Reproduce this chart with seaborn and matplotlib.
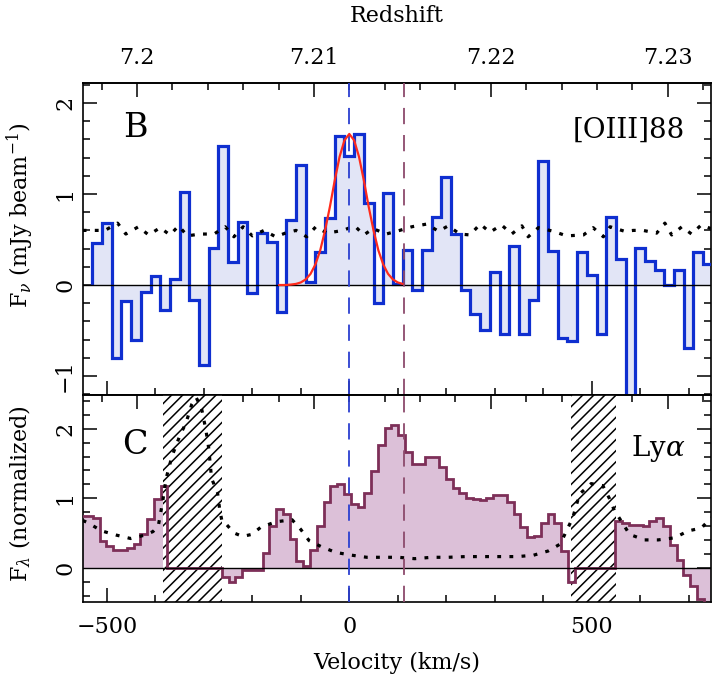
import numpy as np
import matplotlib
matplotlib.use('Agg')
import matplotlib.pyplot as plt
from matplotlib.ticker import MultipleLocator, FixedLocator, FixedFormatter
import seaborn as sns

#########   data   ################################
z_sys = 7.212            # redshift at v = 0
c_kms = 299792.458
v_lya_peak = 113         # km/s, second dashed line

# [OIII]88 spectrum, 20 km/s channels (centres)
oiii_vel = np.arange(-520, 741, 20)
oiii_flux = [0.46, 0.68, -0.80, -0.18, -0.60, -0.08, 0.10, -0.27, 0.07, 1.02,
             -0.16, -0.88, 0.41, 1.53, 0.25, 0.69, -0.09, 0.57, 0.47, -0.30,
             0.71, 1.32, 0.03, 0.36, 0.74, 1.64, 1.42, 1.66, 0.90, -0.20,
             1.01, 0.01, 0.38, -0.05, 0.39, 0.75, 1.19, 0.56, -0.05, -0.32,
             -0.49, 0.14, -0.54, 0.43, -0.54, -0.16, 1.36, 0.37, -0.58, -0.62,
             0.36, 0.11, -0.54, 0.75, 0.29, -1.40, 0.41, 0.26, 0.16, 0.00,
             0.16, -0.69, 0.36, 0.23]

# [OIII] noise (dotted)
oiii_rms_vel = [-550, -530, -504, -478, -461, -435, -414, -390, -370, -352, -334,
                -308, -279, -256, -238, -219, -200, -176, -152, -132, -110,
                -88, -69, -46, -13, 11, 30, 49, 76, 104, 129, 160, 184, 204,
                228, 249, 270, 290, 314, 335, 356, 369, 390, 421, 448, 483,
                503, 524, 538, 568, 586, 606, 634, 651, 665, 686, 706, 726, 746]
oiii_rms = [0.60, 0.60, 0.60, 0.68, 0.56, 0.64, 0.55, 0.63, 0.55, 0.65, 0.54,
            0.56, 0.56, 0.64, 0.53, 0.64, 0.54, 0.60, 0.53, 0.57, 0.60,
            0.53, 0.64, 0.57, 0.60, 0.65, 0.55, 0.62, 0.56, 0.60, 0.64, 0.67,
            0.59, 0.65, 0.56, 0.55, 0.67, 0.58, 0.66, 0.56, 0.65, 0.53, 0.63,
            0.59, 0.54, 0.55, 0.63, 0.53, 0.64, 0.59, 0.60, 0.60, 0.57, 0.68,
            0.55, 0.64, 0.56, 0.66, 0.62]

# gaussian fit (red)
gauss_vel = [-145, -130, -120, -110, -100, -90, -80, -70, -60, -50, -40, -30,
             -20, -10, 0, 10, 20, 30, 40, 50, 60, 70, 80, 90, 100, 110]
gauss_flux = [0.00, 0.00, 0.005, 0.012, 0.028, 0.061, 0.122, 0.225, 0.38, 0.60,
              0.86, 1.15, 1.41, 1.59, 1.66, 1.59, 1.41, 1.15, 0.86, 0.60, 0.38,
              0.225, 0.122, 0.061, 0.028, 0.012]

# Lya spectrum, 14 km/s channels (centres)
lya_vel = np.arange(-550, 753, 14)
lya_flux = [0.75, 0.74, 0.71, 0.38, 0.31, 0.25, 0.25, 0.28, 0.34, 0.48,
            0.70, 0.99, 1.18, 0, 0, 0, 0, 0, 0, 0,
            0, -0.13, -0.20, -0.13, -0.04, -0.03, -0.03, 0.21, 0.60, 0.84,
            0.77, 0.42, 0.09, 0.02, 0.26, 0.60, 0.95, 1.18, 1.21, 1.06,
            0.91, 0.87, 1.07, 1.39, 1.76, 2.01, 2.06, 1.91, 1.67, 1.49,
            1.49, 1.59, 1.59, 1.45, 1.28, 1.15, 1.08, 1.01, 0.99, 0.98,
            1.00, 1.04, 1.04, 0.95, 0.77, 0.58, 0.44, 0.46, 0.65, 0.77,
            0.65, 0.24, -0.20, 0, 0, 0, 0, 0, 0, 0.67,
            0.65, 0.62, 0.61, 0.60, 0.67, 0.72, 0.60, 0.33, 0.11, -0.10,
            -0.27, -0.45, -0.55, -0.55]

# Lya noise (dotted)
lya_err_vel = [-550, -540, -511, -481, -451, -421, -405, -394, -385, -378,
               -366, -349, -337, -325, -316, -305, -296, -290, -284, -272,
               -267, -262, -253, -238, -220, -201, -183, -152, -118, -100,
               -83, -57, -28, 5, 36, 69, 101, 135, 170, 204,
               239, 270, 309, 347, 380, 410, 435, 448, 461, 475,
               499, 523, 537, 547, 563, 578, 609, 637, 671, 699,
               726, 747]
lya_err = [0.68, 0.65, 0.53, 0.47, 0.42, 0.47, 0.52, 0.60, 0.95, 1.28,
           1.60, 1.91, 2.08, 2.35, 2.45, 2.30, 1.99, 1.72, 1.28, 1.09,
           0.82, 0.65, 0.62, 0.50, 0.45, 0.48, 0.58, 0.66, 0.69, 0.55,
           0.39, 0.30, 0.22, 0.18, 0.15, 0.15, 0.15, 0.13, 0.15, 0.15,
           0.16, 0.16, 0.16, 0.16, 0.18, 0.24, 0.34, 0.53, 0.72, 1.06,
           1.21, 1.18, 0.99, 0.82, 0.65, 0.48, 0.40, 0.40, 0.43, 0.53,
           0.57, 0.72]

# sky line masks (hatched)
sky_masks = [(-385, -263), (457, 551)]

z_ticks = [7.20, 7.21, 7.22, 7.23]
z_ticklabels = ['7.2', '7.21', '7.22', '7.23']

#########   plot   ############
sns.set_style('ticks')
plt.rcParams['font.family'] = ['DejaVu Serif']
plt.rcParams['mathtext.fontset'] = 'dejavuserif'
plt.rcParams['hatch.linewidth'] = 1.1
plt.rcParams['text.color'] = 'black'
plt.rcParams['axes.edgecolor'] = 'black'
plt.rcParams['xtick.color'] = 'black'
plt.rcParams['ytick.color'] = 'black'
plt.rcParams['xtick.labelcolor'] = 'black'
plt.rcParams['ytick.labelcolor'] = 'black'

W, H = 713, 678
fig = plt.figure(figsize=(W / 100, H / 100), dpi=100)
ax1 = fig.add_axes([83 / W, 1 - 395 / H, 628 / W, 312 / H])
ax2 = fig.add_axes([83 / W, 1 - 601.7 / H, 628 / W, 206.7 / H])

blue = '#0f2fd0'
maroon = '#7d2f58'

# top: [OIII]
e1 = np.append(oiii_vel - 10, oiii_vel[-1] + 10)
ax1.stairs(oiii_flux, e1, baseline=0, fill=True, color='#e2e5f6', zorder=1)
ax1.stairs(oiii_flux, e1, baseline=0, color=blue, lw=2.3, zorder=3)
sns.lineplot(x=oiii_rms_vel, y=oiii_rms, ax=ax1, color='black', lw=2.3,
             linestyle=(0, (1.2, 2.6)), zorder=4)
sns.lineplot(x=gauss_vel, y=gauss_flux, ax=ax1, color='#ff2b1c', lw=1.6, zorder=6)

# bottom: Lya
e2 = np.append(lya_vel - 7, lya_vel[-1] + 7)
for lo, hi in sky_masks:
    ax2.axvspan(lo, hi, facecolor='white', edgecolor='black', hatch='///',
                lw=0, zorder=2.5)
ax2.stairs(lya_flux, e2, baseline=0, fill=True, color='#dcc0d8', zorder=2)
ax2.stairs(lya_flux, e2, baseline=0, color=maroon, lw=2.0, zorder=3)
sns.lineplot(x=lya_err_vel, y=lya_err, ax=ax2, color='black', lw=2.3,
             linestyle=(0, (1.2, 2.6)), zorder=4)

for ax in (ax1, ax2):
    ax.axhline(0, color='black', lw=1.0, zorder=3.5)
    ax.axvline(0, color='#2b3fd0', lw=1.3, ls=(0, (9, 6)), zorder=5)
    ax.axvline(v_lya_peak, color='#8c4a6c', lw=1.3, ls=(0, (9, 6)), zorder=5)
    ax.set_xlim(-549.3, 746.1)
    ax.xaxis.set_major_locator(MultipleLocator(500))
    ax.xaxis.set_minor_locator(MultipleLocator(100))
    ax.yaxis.set_major_locator(MultipleLocator(1))
    ax.yaxis.set_minor_locator(MultipleLocator(0.2))
    ax.tick_params(which='both', direction='in', top=False, right=True,
                   labelsize=16, width=1.1, colors='black')
    ax.tick_params(which='major', length=10)
    ax.tick_params(which='minor', length=5)
    ax.tick_params(axis='x', pad=10)
    ax.tick_params(axis='y', labelrotation=90, pad=5)
    for s in ax.spines.values():
        s.set_linewidth(1.2)
        s.set_color('black')
    ax.set_xlabel('')
    ax.set_ylabel('')

ax1.set_ylim(-1.209, 2.22)
ax2.set_ylim(-0.489, 2.485)
ax1.tick_params(axis='x', labelbottom=False)


def v2z(v):
    return z_sys + np.asarray(v) * (1 + z_sys) / c_kms


def z2v(z):
    return (np.asarray(z) - z_sys) * c_kms / (1 + z_sys)


for ax, lab in ((ax1, True), (ax2, False)):
    sec = ax.secondary_xaxis('top', functions=(v2z, z2v))
    sec.xaxis.set_major_locator(FixedLocator(z_ticks))
    sec.xaxis.set_major_formatter(FixedFormatter(z_ticklabels))
    sec.xaxis.set_minor_locator(MultipleLocator(0.002))
    sec.tick_params(which='both', direction='in', labelsize=16, width=1.1,
                    pad=10, labeltop=lab, colors='black')
    sec.tick_params(which='major', length=10)
    sec.tick_params(which='minor', length=5)
    sec.spines['top'].set_linewidth(1.2)
    sec.spines['top'].set_color('black')

for ax in (ax1, ax2):
    plt.setp(ax.get_yticklabels(), va='center')

fs = 16
fig.text(397 / W, 1 - 16 / H, 'Redshift', ha='center', va='center', fontsize=fs)
fig.text(397 / W, 1 - 663 / H, 'Velocity (km/s)', ha='center', va='center', fontsize=fs)
fig.text(20 / W, 1 - 215 / H, r'F$_\nu$ (mJy beam$^{-1}$)', rotation=90,
         ha='center', va='center', fontsize=fs)
fig.text(20 / W, 1 - 494 / H, r'F$_\lambda$ (normalized)', rotation=90,
         ha='center', va='center', fontsize=fs)
fig.text(135 / W, 1 - 128 / H, 'B', ha='center', va='center', fontsize=24)
fig.text(135 / W, 1 - 445 / H, 'C', ha='center', va='center', fontsize=24)
fig.text(685 / W, 1 - 130 / H, '[OIII]88', ha='right', va='center', fontsize=20)
fig.text(685 / W, 1 - 448 / H, r'Ly$\alpha$', ha='right', va='center', fontsize=20)

fig.savefig('out.png', dpi=100)
